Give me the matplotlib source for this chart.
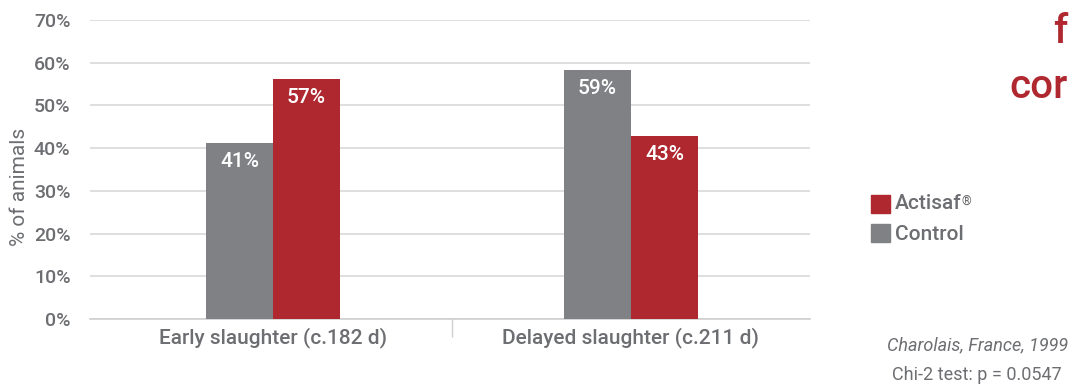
import matplotlib
matplotlib.use("Agg")
import matplotlib.pyplot as plt
import numpy as np

categories = ["Early slaughter (c.182 d)", "Delayed slaughter (c.211 d)"]
control = [41.3, 58.4]
actisaf = [56.3, 42.9]
control_labels = ["41%", "59%"]
actisaf_labels = ["57%", "43%"]
yticks = [0, 10, 20, 30, 40, 50, 60, 70]

RED = "#b0282f"
GRAY = "#808184"
TXT = "#6d6e71"
GRID = "#d9d9d9"

plt.rcParams["font.family"] = ["Roboto", "DejaVu Sans"]
plt.rcParams["font.weight"] = 500

fig = plt.figure(figsize=(10.69, 3.85), dpi=100)
ax = fig.add_axes([90/1069, 66/385, 720/1069, 299/385])

x = np.arange(len(categories))
w = 0.187
bc = ax.bar(x - w/2, control, w, color=GRAY, zorder=3)
ba = ax.bar(x + w/2, actisaf, w, color=RED, zorder=3)

for bars, labs in ((bc, control_labels), (ba, actisaf_labels)):
    for rect, lab in zip(bars, labs):
        ax.annotate(lab, (rect.get_x() + rect.get_width()/2, rect.get_height()),
                    xytext=(0, -19), textcoords="offset pixels", ha="center", va="center",
                    color="white", fontsize=15, zorder=4)

ax.set_xlim(-0.511, 1.5)
ax.set_ylim(0, 70)
ax.set_yticks(yticks)
ax.set_yticklabels([f"{v}%" for v in yticks])
ax.yaxis.grid(True, color=GRID, linewidth=1.2, zorder=0)
ax.set_axisbelow(True)
for s in ["top", "right", "left"]:
    ax.spines[s].set_visible(False)
ax.spines["bottom"].set_color("#cfcfcf")
ax.spines["bottom"].set_linewidth(1.2)
ax.tick_params(axis="y", length=0, labelsize=14, labelcolor=TXT, pad=14)
ax.set_xticks(x)
ax.set_xticklabels(categories)
ax.tick_params(axis="x", which="major", length=0, labelsize=15, labelcolor=TXT, pad=6)
ax.set_xticks([0.5], minor=True)
ax.tick_params(axis="x", which="minor", length=13, color="#cfcfcf", width=1)
ax.set_ylabel("% of animals", fontsize=15, color=TXT)
ax.yaxis.set_label_coords(-(90 - 29) / 720, (319 - 187) / 299)

# legend
fig.patches.append(plt.Rectangle((871/1069, 1 - 213/385), 19/1069, 18/385,
                                 transform=fig.transFigure, color=RED))
fig.patches.append(plt.Rectangle((871/1069, 1 - 242/385), 19/1069, 18/385,
                                 transform=fig.transFigure, color=GRAY))
t_act = fig.text(895/1069, 1 - 204/385, "Actisaf", fontsize=15, color=TXT, va="center", ha="left")
ax.annotate("®", xy=(1, 1), xycoords=t_act, xytext=(0, 0), textcoords="offset pixels",
            va="top", ha="left", fontsize=9, color=TXT, annotation_clip=False)
fig.text(895/1069, 1 - 234/385, "Control", fontsize=15, color=TXT, va="center", ha="left")

# title text (cut at the right edge in the original)
fig.text(1068/1069, 1 - 43/385, "f", fontsize=29, color=RED, va="baseline", ha="right")
fig.text(1068/1069, 1 - 98/385, "cor", fontsize=29, color=RED, va="baseline", ha="right")

fig.text(1068/1069, 1 - 345/385, "Charolais, France, 1999", fontsize=13, style="italic",
         color=TXT, va="center", ha="right", fontweight="normal")
fig.text(1062/1069, 1 - 375/385, "Chi-2 test: p = 0.0547", fontsize=13,
         color=TXT, va="center", ha="right", fontweight="normal")

fig.savefig("out.png", dpi=100)
